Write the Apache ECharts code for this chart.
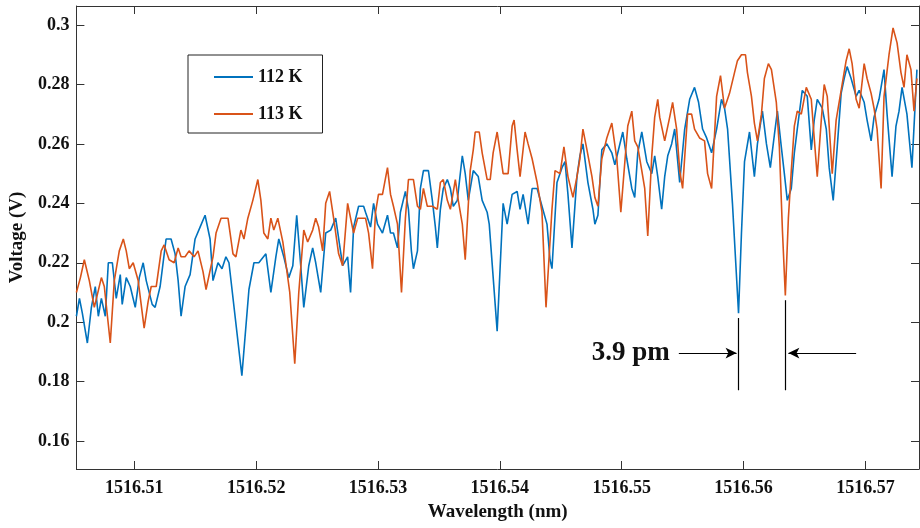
<!DOCTYPE html>
<html><head><meta charset="utf-8">
<script src="https://cdn.jsdelivr.net/npm/echarts@6/dist/echarts.min.js"></script>
<style>html,body{margin:0;padding:0;background:#fff}#c{width:920px;height:528px}</style>
</head><body><div id="c"></div>
<script>
// ---- data (wavelength in nm, voltage in V) ----
const wl112 = [
1516.50525,1516.50550,1516.50574,1516.50615,1516.50648,1516.50680,1516.50705,1516.50730,1516.50762,1516.50787,
1516.50820,1516.50852,1516.50885,1516.50901,1516.50934,1516.50967,1516.51008,1516.51041,1516.51073,1516.51098,
1516.51147,1516.51171,1516.51212,1516.51261,1516.51302,1516.51335,1516.51360,1516.51384,1516.51417,1516.51458,
1516.51499,1516.51540,1516.51581,1516.51622,1516.51646,1516.51687,1516.51720,1516.51752,1516.51777,1516.51883,
1516.51941,1516.51982,1516.52022,1516.52080,1516.52121,1516.52162,1516.52186,1516.52227,1516.52268,1516.52301,
1516.52333,1516.52366,1516.52391,1516.52432,1516.52464,1516.52489,1516.52530,1516.52571,1516.52612,1516.52653,
1516.52685,1516.52710,1516.52751,1516.52775,1516.52800,1516.52841,1516.52882,1516.52898,1516.52939,1516.52964,
1516.52996,1516.53037,1516.53078,1516.53103,1516.53127,1516.53160,1516.53184,1516.53225,1516.53250,1516.53274,
1516.53291,1516.53324,1516.53348,1516.53373,1516.53414,1516.53446,1516.53471,1516.53487,1516.53512,1516.53536,
1516.53569,1516.53594,1516.53618,1516.53651,1516.53692,1516.53716,1516.53741,1516.53782,1516.53823,1516.53855,
1516.53896,1516.53913,1516.53978,1516.54027,1516.54060,1516.54101,1516.54142,1516.54166,1516.54191,1516.54232,
1516.54265,1516.54306,1516.54346,1516.54387,1516.54412,1516.54428,1516.54469,1516.54510,1516.54535,1516.54559,
1516.54592,1516.54633,1516.54657,1516.54682,1516.54723,1516.54764,1516.54780,1516.54805,1516.54837,1516.54878,
1516.54919,1516.54944,1516.54968,1516.55009,1516.55042,1516.55083,1516.55107,1516.55132,1516.55165,1516.55206,
1516.55247,1516.55271,1516.55296,1516.55328,1516.55353,1516.55378,1516.55410,1516.55435,1516.55476,1516.55517,
1516.55558,1516.55598,1516.55631,1516.55664,1516.55697,1516.55738,1516.55779,1516.55819,1516.55844,1516.55869,
1516.55909,1516.55959,1516.55983,1516.56008,1516.56049,1516.56089,1516.56114,1516.56155,1516.56188,1516.56220,
1516.56253,1516.56278,1516.56310,1516.56335,1516.56359,1516.56392,1516.56417,1516.56441,1516.56482,1516.56523,
1516.56556,1516.56580,1516.56605,1516.56646,1516.56679,1516.56703,1516.56736,1516.56769,1516.56801,1516.56826,
1516.56850,1516.56883,1516.56924,1516.56949,1516.56990,1516.57014,1516.57047,1516.57071,1516.57112,1516.57153,
1516.57178,1516.57219,1516.57251,1516.57276,1516.57301,1516.57341,1516.57382,1516.57423
];
const v112 = [
0.202,0.208,0.203,0.193,0.205,0.212,0.202,0.208,0.202,0.220,
0.220,0.208,0.216,0.206,0.215,0.212,0.205,0.215,0.220,0.214,
0.206,0.205,0.212,0.228,0.228,0.223,0.214,0.202,0.212,0.216,
0.228,0.232,0.236,0.228,0.214,0.220,0.218,0.222,0.220,0.182,
0.211,0.220,0.220,0.223,0.210,0.222,0.228,0.222,0.215,0.219,
0.236,0.219,0.205,0.219,0.225,0.220,0.210,0.230,0.231,0.235,
0.226,0.219,0.222,0.210,0.232,0.239,0.239,0.237,0.232,0.240,
0.233,0.230,0.236,0.230,0.230,0.225,0.237,0.244,0.238,0.224,
0.218,0.224,0.245,0.251,0.251,0.241,0.232,0.225,0.238,0.245,
0.248,0.245,0.239,0.241,0.256,0.250,0.241,0.251,0.249,0.241,
0.237,0.233,0.197,0.240,0.233,0.243,0.244,0.238,0.243,0.233,
0.245,0.245,0.239,0.233,0.221,0.218,0.247,0.252,0.254,0.243,
0.225,0.249,0.256,0.260,0.247,0.238,0.233,0.236,0.258,0.260,
0.257,0.253,0.257,0.264,0.255,0.245,0.242,0.257,0.264,0.254,
0.250,0.256,0.249,0.238,0.249,0.256,0.260,0.265,0.247,0.265,
0.275,0.279,0.274,0.265,0.262,0.257,0.265,0.275,0.272,0.265,
0.240,0.203,0.230,0.254,0.264,0.249,0.260,0.271,0.260,0.252,
0.263,0.271,0.259,0.250,0.241,0.245,0.257,0.265,0.278,0.276,
0.258,0.268,0.275,0.272,0.265,0.252,0.241,0.259,0.277,0.282,
0.286,0.282,0.276,0.278,0.274,0.268,0.261,0.269,0.275,0.285,
0.270,0.249,0.266,0.271,0.279,0.270,0.252,0.285
];
const wl113 = [
1516.50525,1516.50558,1516.50590,1516.50631,1516.50672,1516.50730,1516.50754,1516.50803,1516.50836,1516.50877,
1516.50910,1516.50934,1516.50959,1516.50991,1516.51032,1516.51081,1516.51114,1516.51139,1516.51180,1516.51221,
1516.51245,1516.51286,1516.51327,1516.51360,1516.51384,1516.51417,1516.51450,1516.51491,1516.51523,1516.51564,
1516.51589,1516.51646,1516.51671,1516.51712,1516.51769,1516.51793,1516.51810,1516.51834,1516.51875,1516.51900,
1516.51932,1516.51973,1516.52014,1516.52039,1516.52063,1516.52096,1516.52121,1516.52145,1516.52178,1516.52219,
1516.52243,1516.52276,1516.52317,1516.52350,1516.52391,1516.52423,1516.52464,1516.52489,1516.52513,1516.52546,
1516.52571,1516.52603,1516.52636,1516.52677,1516.52710,1516.52751,1516.52775,1516.52800,1516.52833,1516.52857,
1516.52898,1516.52923,1516.52955,1516.52980,1516.53004,1516.53037,1516.53078,1516.53103,1516.53127,1516.53160,
1516.53193,1516.53225,1516.53250,1516.53291,1516.53324,1516.53348,1516.53373,1516.53405,1516.53446,1516.53487,
1516.53512,1516.53536,1516.53569,1516.53594,1516.53635,1516.53659,1516.53692,1516.53716,1516.53757,1516.53782,
1516.53798,1516.53831,1516.53855,1516.53896,1516.53921,1516.53945,1516.53978,1516.54003,1516.54027,1516.54068,
1516.54101,1516.54117,1516.54142,1516.54166,1516.54207,1516.54232,1516.54265,1516.54306,1516.54346,1516.54379,
1516.54428,1516.54453,1516.54494,1516.54526,1516.54559,1516.54600,1516.54633,1516.54657,1516.54682,1516.54715,
1516.54756,1516.54780,1516.54805,1516.54837,1516.54878,1516.54919,1516.54960,1516.54993,1516.55026,1516.55050,
1516.55083,1516.55107,1516.55132,1516.55165,1516.55189,1516.55214,1516.55247,1516.55271,1516.55296,1516.55312,
1516.55353,1516.55394,1516.55418,1516.55451,1516.55476,1516.55500,1516.55541,1516.55574,1516.55598,1516.55639,
1516.55680,1516.55705,1516.55738,1516.55779,1516.55811,1516.55844,1516.55885,1516.55926,1516.55950,1516.55983,
1516.56016,1516.56032,1516.56065,1516.56089,1516.56114,1516.56147,1516.56171,1516.56204,1516.56229,1516.56269,
1516.56294,1516.56319,1516.56343,1516.56368,1516.56392,1516.56417,1516.56441,1516.56474,1516.56515,1516.56556,
1516.56580,1516.56605,1516.56638,1516.56662,1516.56687,1516.56728,1516.56760,1516.56801,1516.56842,1516.56867,
1516.56891,1516.56924,1516.56949,1516.56990,1516.57014,1516.57047,1516.57071,1516.57096,1516.57129,1516.57153,
1516.57194,1516.57227,1516.57260,1516.57292,1516.57317,1516.57341,1516.57374,1516.57399,1516.57423
];
const v113 = [
0.210,0.215,0.221,0.214,0.205,0.215,0.212,0.193,0.214,0.224,
0.228,0.224,0.218,0.220,0.214,0.198,0.207,0.212,0.212,0.224,
0.226,0.221,0.220,0.225,0.222,0.222,0.224,0.222,0.224,0.217,
0.211,0.222,0.230,0.235,0.235,0.228,0.223,0.222,0.231,0.228,
0.235,0.241,0.248,0.241,0.230,0.228,0.235,0.231,0.235,0.227,
0.220,0.210,0.186,0.210,0.231,0.227,0.231,0.235,0.232,0.224,
0.240,0.244,0.235,0.223,0.219,0.240,0.235,0.230,0.235,0.235,
0.235,0.230,0.218,0.237,0.243,0.243,0.252,0.243,0.239,0.233,
0.210,0.235,0.248,0.248,0.239,0.238,0.245,0.239,0.239,0.238,
0.247,0.248,0.241,0.238,0.248,0.241,0.233,0.221,0.251,0.258,
0.264,0.264,0.257,0.248,0.248,0.257,0.264,0.257,0.250,0.250,
0.266,0.268,0.258,0.249,0.264,0.260,0.255,0.247,0.237,0.205,
0.238,0.251,0.250,0.259,0.249,0.242,0.249,0.255,0.265,0.258,
0.249,0.242,0.239,0.255,0.262,0.267,0.255,0.237,0.254,0.266,
0.271,0.261,0.259,0.251,0.245,0.229,0.256,0.269,0.275,0.269,
0.261,0.269,0.274,0.265,0.251,0.245,0.270,0.270,0.265,0.262,
0.261,0.250,0.245,0.276,0.283,0.272,0.277,0.284,0.288,0.290,
0.290,0.284,0.276,0.267,0.261,0.270,0.282,0.287,0.285,0.274,
0.259,0.231,0.209,0.235,0.251,0.266,0.271,0.270,0.279,0.275,
0.262,0.249,0.268,0.280,0.276,0.250,0.268,0.278,0.288,0.292,
0.287,0.275,0.272,0.287,0.282,0.277,0.272,0.265,0.245,0.276,
0.290,0.299,0.294,0.284,0.279,0.290,0.285,0.271,0.282
];
const seriesNames = ['112 K', '113 K'];
const xTicks = [1516.51, 1516.52, 1516.53, 1516.54, 1516.55, 1516.56, 1516.57];
const yTicks = [0.16, 0.18, 0.2, 0.22, 0.24, 0.26, 0.28, 0.3];
const xRange = [1516.50525, 1516.5744];
const yRange = [0.1506, 0.3064];

// annotation (data units)
const gapLabel = '3.9 pm';
const gapLeftWl = 1516.55959, gapRightWl = 1516.56343;
const gapLineBottom = 0.1771, gapLineTopLeft = 0.2014, gapLineTopRight = 0.2074;
const arrowY = 0.1896;
const arrowLeftFrom = 1516.55469, arrowLeftTo = 1516.55943;
const arrowRightFrom = 1516.56924, arrowRightTo = 1516.56368;
const labelAnchorWl = 1516.55410;

const zip = (a, b) => a.map((x, i) => [x, b[i]]);
const FONT = '"Liberation Serif", "Times New Roman", serif';
const AX = '#333';

const chart = echarts.init(document.getElementById('c'), null, {renderer: 'canvas'});
const labelStyle = {fontFamily: FONT, fontWeight: 'bold', fontSize: 18, color: '#111'};
const nameStyle = {fontFamily: FONT, fontWeight: 'bold', fontSize: 19, color: '#111'};

chart.setOption({
  animation: false,
  backgroundColor: '#fff',
  grid: {left: 75, top: 6, width: 844, height: 463, containLabel: false},
  legend: {
    data: seriesNames,
    orient: 'vertical',
    left: 188, top: 55,
    padding: [13, 20, 10, 26],
    itemGap: 19,
    itemWidth: 39, itemHeight: 2,
    icon: 'rect',
    backgroundColor: '#fff',
    borderColor: '#222', borderWidth: 1,
    textStyle: {fontFamily: FONT, fontWeight: 'bold', fontSize: 18, color: '#111'}
  },
  xAxis: [{
    type: 'value', position: 'bottom', min: xRange[0], max: xRange[1],
    axisLine: {show: true, onZero: false, lineStyle: {color: AX, width: 1}},
    axisTick: {show: true, inside: true, length: 8, customValues: xTicks, lineStyle: {color: AX}},
    axisLabel: Object.assign({customValues: xTicks, margin: 10, formatter: v => Number(v).toFixed(2)}, labelStyle),
    splitLine: {show: false},
    name: 'Wavelength (nm)', nameLocation: 'middle', nameGap: 34, nameTextStyle: nameStyle
  }, {
    type: 'value', position: 'top', min: xRange[0], max: xRange[1],
    axisLine: {show: true, onZero: false, lineStyle: {color: AX, width: 1}},
    axisTick: {show: true, inside: true, length: 8, customValues: xTicks, lineStyle: {color: AX}},
    axisLabel: {show: false},
    splitLine: {show: false}
  }],
  yAxis: [{
    type: 'value', position: 'left', min: yRange[0], max: yRange[1],
    axisLine: {show: true, onZero: false, lineStyle: {color: AX, width: 1}},
    axisTick: {show: true, inside: true, length: 8, customValues: yTicks, lineStyle: {color: AX}},
    axisLabel: Object.assign({customValues: yTicks, margin: 7, formatter: v => String(+Number(v).toFixed(2))}, labelStyle),
    splitLine: {show: false},
    name: 'Voltage (V)', nameLocation: 'middle', nameGap: 44, nameRotate: 90, nameTextStyle: nameStyle
  }, {
    type: 'value', position: 'right', min: yRange[0], max: yRange[1],
    axisLine: {show: true, onZero: false, lineStyle: {color: AX, width: 1}},
    axisTick: {show: true, inside: true, length: 8, customValues: yTicks, lineStyle: {color: AX}},
    axisLabel: {show: false},
    splitLine: {show: false}
  }],
  series: [{
    name: seriesNames[0], type: 'line', xAxisIndex: 0, yAxisIndex: 0,
    data: zip(wl112, v112), showSymbol: false, symbol: 'none',
    color: '#0072BD', lineStyle: {color: '#0072BD', width: 1.6}, z: 2
  }, {
    name: seriesNames[1], type: 'line', xAxisIndex: 0, yAxisIndex: 0,
    data: zip(wl113, v113), showSymbol: false, symbol: 'none',
    color: '#D95319', lineStyle: {color: '#D95319', width: 1.6}, z: 3
  }, {
    name: 'annotation', type: 'line', xAxisIndex: 0, yAxisIndex: 0, data: [], z: 4,
    markLine: {
      silent: true, animation: false,
      symbol: ['none', 'none'],
      lineStyle: {color: '#000', width: 1.2, type: 'solid'},
      label: {show: false},
      data: [
        [{coord: [gapLeftWl, gapLineTopLeft]}, {coord: [gapLeftWl, gapLineBottom]}],
        [{coord: [gapRightWl, gapLineTopRight]}, {coord: [gapRightWl, gapLineBottom]}],
        [{coord: [arrowLeftFrom, arrowY], symbol: 'none'}, {coord: [arrowLeftTo, arrowY], symbol: 'arrow', symbolSize: [8, 11]}],
        [{coord: [arrowRightFrom, arrowY], symbol: 'none'}, {coord: [arrowRightTo, arrowY], symbol: 'arrow', symbolSize: [8, 11]}]
      ]
    },
    markPoint: {
      silent: true, animation: false,
      symbol: 'circle', symbolSize: 0,
      itemStyle: {color: 'transparent'},
      label: {show: true, position: 'left', distance: 2, formatter: gapLabel,
        fontFamily: FONT, fontWeight: 'bold', fontSize: 27, color: '#111'},
      data: [{coord: [labelAnchorWl, arrowY]}]
    }
  }]
});
</script>
</body></html>
